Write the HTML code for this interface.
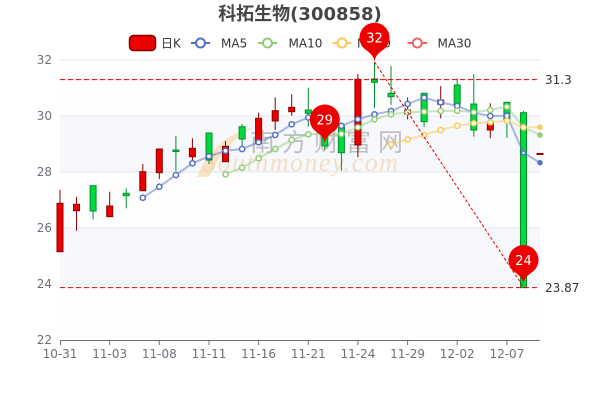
<!DOCTYPE html>
<html><head><meta charset="utf-8">
<style>
html,body{margin:0;padding:0;background:#fff;}
svg{display:block;}
</style></head>
<body>
<svg width="600" height="400" viewBox="0 0 600 400" xmlns="http://www.w3.org/2000/svg">
<rect width="600" height="400" fill="#fff"/>
<!-- split areas -->
<rect x="60" y="60" width="480" height="56" fill="#fefefe"/>
<rect x="60" y="116" width="480" height="56" fill="#f6f8fc"/>
<rect x="60" y="172" width="480" height="56" fill="#fefefe"/>
<rect x="60" y="228" width="480" height="56" fill="#f6f8fc"/>
<rect x="60" y="284" width="480" height="56" fill="#fefefe"/>
<!-- grid -->
<g stroke="#e0e6f1" stroke-width="1">
<line x1="60" y1="60" x2="540" y2="60"/>
<line x1="60" y1="116" x2="540" y2="116"/>
<line x1="60" y1="172" x2="540" y2="172"/>
<line x1="60" y1="228" x2="540" y2="228"/>
<line x1="60" y1="284" x2="540" y2="284"/>
</g>
<!-- y labels -->
<g font-family="DejaVu Sans, Liberation Sans, sans-serif" font-size="12" fill="#6e7079" text-anchor="end">
<text x="52" y="64">32</text>
<text x="52" y="120">30</text>
<text x="52" y="176">28</text>
<text x="52" y="232">26</text>
<text x="52" y="288">24</text>
<text x="52" y="344">22</text>
</g>
<!-- x axis -->
<line x1="60" y1="340.5" x2="540" y2="340.5" stroke="#6e7079" stroke-width="1"/>
<g stroke="#6e7079" stroke-width="1">
<line x1="60.5" y1="340" x2="60.5" y2="345"/>
<line x1="109.7" y1="340" x2="109.7" y2="345"/>
<line x1="159.3" y1="340" x2="159.3" y2="345"/>
<line x1="209" y1="340" x2="209" y2="345"/>
<line x1="258.6" y1="340" x2="258.6" y2="345"/>
<line x1="308.3" y1="340" x2="308.3" y2="345"/>
<line x1="357.9" y1="340" x2="357.9" y2="345"/>
<line x1="407.6" y1="340" x2="407.6" y2="345"/>
<line x1="457.2" y1="340" x2="457.2" y2="345"/>
<line x1="506.9" y1="340" x2="506.9" y2="345"/>
</g>
<g font-family="DejaVu Sans, Liberation Sans, sans-serif" font-size="12" fill="#6e7079" text-anchor="middle">
<text x="60" y="358">10-31</text>
<text x="109.7" y="358">11-03</text>
<text x="159.3" y="358">11-08</text>
<text x="209" y="358">11-11</text>
<text x="258.6" y="358">11-16</text>
<text x="308.3" y="358">11-21</text>
<text x="357.9" y="358">11-24</text>
<text x="407.6" y="358">11-29</text>
<text x="457.2" y="358">12-02</text>
<text x="506.9" y="358">12-07</text>
</g>
<!-- watermark -->
<path d="M197 177 Q212 138 254 127 Q224 143 209 177 Z" fill="#f8dcb6" opacity="0.8"/>
<text x="250" y="151" font-family="Noto Sans CJK SC, WenQuanYi Zen Hei, sans-serif" font-size="25" fill="#9a9a9a" opacity="0.6" textLength="153" lengthAdjust="spacing">南方财富网</text>
<text x="203" y="171" font-family="Liberation Serif, serif" font-style="italic" font-size="26" fill="#f3c993" opacity="0.55" textLength="195" lengthAdjust="spacing">Southmoney.com</text>
<!-- candles -->
<g stroke-width="1">
<g stroke="#8a0000" fill="#ec0000">
<line x1="60" y1="190" x2="60" y2="251.7"/><rect x="57" y="203.3" width="6" height="48.4"/>
<line x1="76.55" y1="196.7" x2="76.55" y2="230.7"/><rect x="73.55" y="204.3" width="6" height="6.4"/>
<line x1="109.7" y1="191.7" x2="109.7" y2="216.7"/><rect x="106.7" y="206" width="6" height="10.7"/>
<line x1="142.8" y1="164" x2="142.8" y2="190.7"/><rect x="139.8" y="171.7" width="6" height="19"/>
<line x1="159.3" y1="149" x2="159.3" y2="179"/><rect x="156.3" y="149" width="6" height="23.7"/>
<line x1="192.4" y1="138.3" x2="192.4" y2="160.7"/><rect x="189.4" y="148.3" width="6" height="8.4"/>
<line x1="225.5" y1="141" x2="225.5" y2="161.7"/><rect x="222.5" y="146.3" width="6" height="15.4"/>
<line x1="258.6" y1="112.7" x2="258.6" y2="143.3"/><rect x="255.6" y="118.3" width="6" height="25"/>
<line x1="275.2" y1="97.3" x2="275.2" y2="130"/><rect x="272.2" y="110.7" width="6" height="10.3"/>
<line x1="291.7" y1="94.3" x2="291.7" y2="115.7"/><rect x="288.7" y="107.3" width="6" height="4.4"/>
<line x1="357.9" y1="74" x2="357.9" y2="157.3"/><rect x="354.9" y="79.3" width="6" height="65.7"/>
<line x1="407.6" y1="97.3" x2="407.6" y2="119.3"/><rect x="404.6" y="110" width="6" height="4"/>
<line x1="440.7" y1="86" x2="440.7" y2="118.3"/><rect x="437.7" y="100" width="6" height="4.3"/>
<line x1="490.3" y1="103.3" x2="490.3" y2="138.3"/><rect x="487.3" y="122.7" width="6" height="7.3"/>
<rect x="537" y="153.5" width="6" height="1"/>
</g>
<g stroke="#008f28" fill="#00da3c">
<line x1="93.1" y1="185.7" x2="93.1" y2="219.3"/><rect x="90.1" y="185.7" width="6" height="25.3"/>
<line x1="126.2" y1="188.3" x2="126.2" y2="208.3"/><rect x="123.2" y="193.3" width="6" height="2.4"/>
<line x1="175.9" y1="136" x2="175.9" y2="170.7"/><rect x="172.9" y="150" width="6" height="1.5"/>
<line x1="209" y1="133" x2="209" y2="164"/><rect x="206" y="133" width="6" height="27"/>
<line x1="242.1" y1="124" x2="242.1" y2="152.3"/><rect x="239.1" y="126.7" width="6" height="12.3"/>
<line x1="308.3" y1="87.7" x2="308.3" y2="126.7"/><rect x="305.3" y="110" width="6" height="3.3"/>
<line x1="324.8" y1="120" x2="324.8" y2="150"/><rect x="321.8" y="128" width="6" height="18"/>
<line x1="341.4" y1="123" x2="341.4" y2="170.7"/><rect x="338.4" y="126" width="6" height="26.7"/>
<line x1="374.5" y1="62" x2="374.5" y2="108"/><rect x="371.5" y="79" width="6" height="3.3"/>
<line x1="391" y1="66" x2="391" y2="105"/><rect x="388" y="93.3" width="6" height="3.4"/>
<line x1="424.1" y1="93.3" x2="424.1" y2="126.7"/><rect x="421.1" y="93.3" width="6" height="28.4"/>
<line x1="457.2" y1="78.3" x2="457.2" y2="104.3"/><rect x="454.2" y="85" width="6" height="19.3"/>
<line x1="473.8" y1="74" x2="473.8" y2="136.7"/><rect x="470.8" y="104" width="6" height="26"/>
<line x1="506.9" y1="102.3" x2="506.9" y2="137.7"/><rect x="503.9" y="102.3" width="6" height="17.7"/>
<line x1="523.5" y1="111" x2="523.5" y2="287.6"/><rect x="520.5" y="112.7" width="6" height="174.9"/>
</g>
</g>
<!-- MA lines -->
<polyline fill="none" stroke="#5470c6" stroke-opacity="0.5" stroke-width="2" points="142.8,197.7 159.3,186.7 175.9,175 192.4,163.3 209,156.3 225.5,150.8 242.1,149 258.6,142.3 275.2,135 291.7,124.3 308.3,117.5 324.8,119 341.4,125.8 357.9,119.3 374.5,114.3 391,111 407.6,104 424.1,97.7 440.7,102.3 457.2,106 473.8,112.7 490.3,116 506.9,115.7 523.5,152.7 540,162.7"/>
<polyline fill="none" stroke="#91cc75" stroke-opacity="0.5" stroke-width="2" points="225.5,174.3 242.1,167.7 258.6,158.3 275.2,149 291.7,140 308.3,134.3 324.8,134 341.4,134 357.9,127.3 374.5,119.3 391,114.3 407.6,112.3 424.1,111.7 440.7,111 457.2,110.7 473.8,112.3 490.3,110 506.9,106.7 523.5,127.3 540,135"/>
<polyline fill="none" stroke="#fac858" stroke-opacity="0.5" stroke-width="2" points="391,144.3 407.6,139.5 424.1,135 440.7,130 457.2,125.7 473.8,123.3 490.3,122.3 506.9,120.7 523.5,127.3 540,127.3"/>
<g fill="#fff" stroke="#5470c6" stroke-width="1.5">
<circle cx="142.8" cy="197.7" r="2.6"/><circle cx="159.3" cy="186.7" r="2.6"/><circle cx="175.9" cy="175" r="2.6"/><circle cx="192.4" cy="163.3" r="2.6"/><circle cx="209" cy="156.3" r="2.6"/><circle cx="225.5" cy="150.8" r="2.6"/><circle cx="242.1" cy="149" r="2.6"/><circle cx="258.6" cy="142.3" r="2.6"/><circle cx="275.2" cy="135" r="2.6"/><circle cx="291.7" cy="124.3" r="2.6"/><circle cx="308.3" cy="117.5" r="2.6"/><circle cx="324.8" cy="119" r="2.6"/><circle cx="341.4" cy="125.8" r="2.6"/><circle cx="357.9" cy="119.3" r="2.6"/><circle cx="374.5" cy="114.3" r="2.6"/><circle cx="391" cy="111" r="2.6"/><circle cx="407.6" cy="104" r="2.6"/><circle cx="424.1" cy="97.7" r="2.6"/><circle cx="440.7" cy="102.3" r="2.6"/><circle cx="457.2" cy="106" r="2.6"/><circle cx="473.8" cy="112.7" r="2.6"/><circle cx="490.3" cy="116" r="2.6"/><circle cx="506.9" cy="115.7" r="2.6"/><circle cx="523.5" cy="152.7" r="2"/><circle cx="540" cy="162.7" r="2" fill="#5470c6"/>
</g>
<g fill="#fff" stroke="#91cc75" stroke-width="1.5">
<circle cx="225.5" cy="174.3" r="2.6"/><circle cx="242.1" cy="167.7" r="2.6"/><circle cx="258.6" cy="158.3" r="2.6"/><circle cx="275.2" cy="149" r="2.6"/><circle cx="291.7" cy="140" r="2.6"/><circle cx="308.3" cy="134.3" r="2.6"/><circle cx="324.8" cy="134" r="2.6"/><circle cx="341.4" cy="134" r="2.6"/><circle cx="357.9" cy="127.3" r="2.6"/><circle cx="374.5" cy="119.3" r="2.6"/><circle cx="391" cy="114.3" r="2.6"/><circle cx="407.6" cy="112.3" r="2.6"/><circle cx="424.1" cy="111.7" r="2.6"/><circle cx="440.7" cy="111" r="2.6"/><circle cx="457.2" cy="110.7" r="2.6"/><circle cx="473.8" cy="112.3" r="2.6"/><circle cx="490.3" cy="110" r="2.6"/><circle cx="506.9" cy="106.7" r="2.6"/><circle cx="523.5" cy="127.3" r="2.6"/><circle cx="540" cy="135" r="2" fill="#91cc75"/>
</g>
<g fill="#fff" stroke="#fac858" stroke-width="1.5">
<circle cx="391" cy="144.3" r="2.6"/><circle cx="407.6" cy="139.5" r="2.6"/><circle cx="424.1" cy="135" r="2.6"/><circle cx="440.7" cy="130" r="2.6"/><circle cx="457.2" cy="125.7" r="2.6"/><circle cx="473.8" cy="123.3" r="2.6"/><circle cx="490.3" cy="122.3" r="2.6"/><circle cx="506.9" cy="120.7" r="2.6"/><circle cx="523.5" cy="127.3" r="2.6"/><circle cx="540" cy="127.3" r="2" fill="#fac858"/>
</g>
<!-- mark lines -->
<g stroke="#cc0000" stroke-width="1" stroke-dasharray="5,3" fill="none">
<line x1="60" y1="79.6" x2="540" y2="79.6"/>
<line x1="60" y1="287.6" x2="540" y2="287.6"/>
</g>
<line x1="374.5" y1="62" x2="523.5" y2="287" stroke="#e60000" stroke-width="1" stroke-dasharray="3,2"/>
<g font-family="DejaVu Sans, Liberation Sans, sans-serif" font-size="12" fill="#333">
<text x="545" y="84">31.3</text>
<text x="545" y="292">23.87</text>
</g>
<!-- title -->
<text x="300" y="20" text-anchor="middle" font-family="DejaVu Sans, Liberation Sans, Noto Sans CJK SC, sans-serif" font-weight="bold" font-size="18" fill="#464646">科拓生物(300858)</text>
<!-- legend -->
<rect x="129.5" y="35.5" width="26" height="15" rx="4" fill="#ec0000" stroke="#8a0000" stroke-width="1.5"/>
<g font-family="DejaVu Sans, Liberation Sans, Noto Sans CJK SC, sans-serif" font-size="12" fill="#333">
<text x="161" y="47.5">日K</text>
<text x="221" y="47.5">MA5</text>
<text x="288.5" y="47.5">MA10</text>
<text x="357" y="47.5">MA20</text>
<text x="437.5" y="47.5">MA30</text>
</g>
<g stroke-width="2" fill="#fff">
<line x1="191" y1="43" x2="210" y2="43" stroke="#5470c6"/><circle cx="200.5" cy="43" r="4.5" stroke="#5470c6"/>
<line x1="258" y1="43" x2="277" y2="43" stroke="#91cc75"/><circle cx="267.5" cy="43" r="4.5" stroke="#91cc75"/>
<line x1="332.5" y1="43" x2="351.5" y2="43" stroke="#fac858"/><circle cx="342" cy="43" r="4.5" stroke="#fac858"/>
<line x1="407.5" y1="43" x2="427" y2="43" stroke="#ee6666"/><circle cx="417.3" cy="43" r="4.5" stroke="#ee6666"/>
</g>
<!-- pins -->
<g fill="#ec0000">
<path d="M362.5,46.7 A15,15 0 1,1 386.5,46.7 C383.5,50.7 374.5,53.7 374.5,62.7 C374.5,53.7 365.5,50.7 362.5,46.7 Z"/>
<path d="M312.8,128.5 A15,15 0 1,1 336.8,128.5 C333.8,132.5 324.8,135.5 324.8,144.5 C324.8,135.5 315.8,132.5 312.8,128.5 Z"/>
<path d="M511.5,269 A15,15 0 1,1 535.5,269 C532.5,273 523.5,276 523.5,285 C523.5,276 514.5,273 511.5,269 Z"/>
</g>
<g font-family="DejaVu Sans, Liberation Sans, sans-serif" font-size="13" fill="#fff" text-anchor="middle">
<text x="374.5" y="42.5">32</text>
<text x="324.8" y="124.3">29</text>
<text x="523.5" y="264.8">24</text>
</g>
</svg>
</body></html>
